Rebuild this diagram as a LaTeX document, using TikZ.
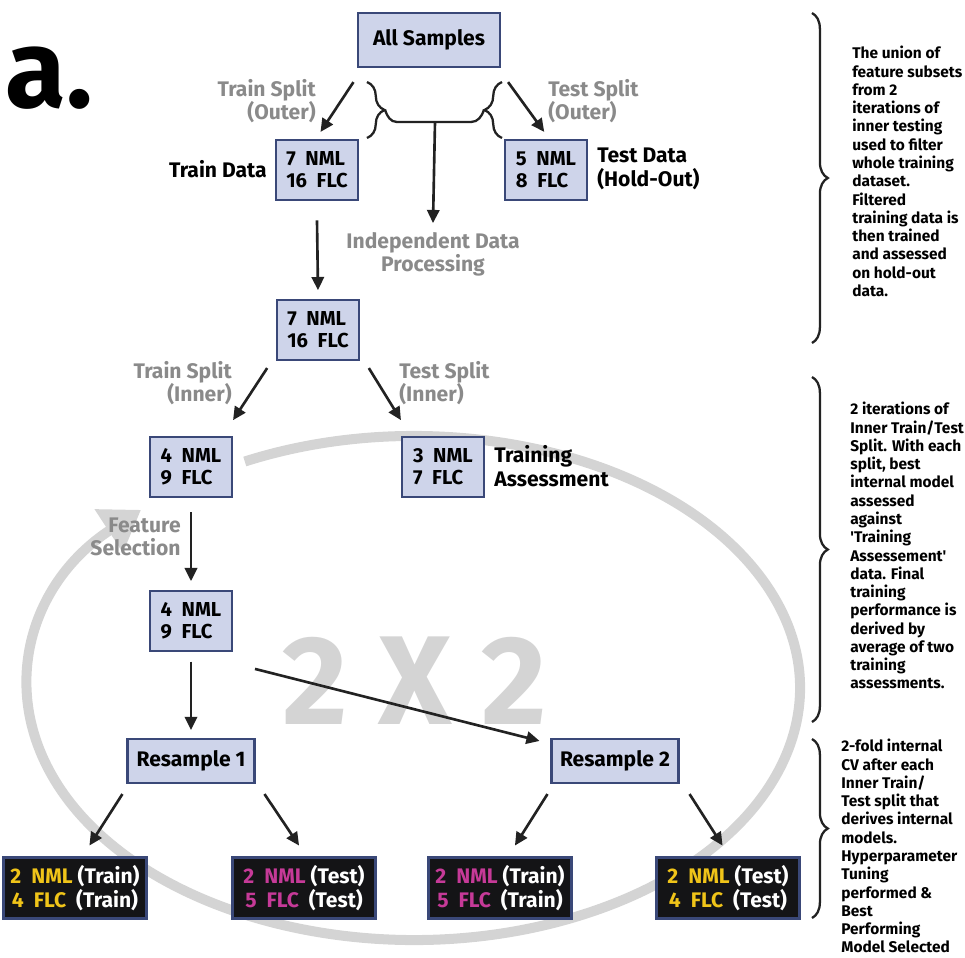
\documentclass[tikz,border=0pt]{standalone}
\usepackage{fontspec}
\setmainfont{Fira Sans}
\newfontfamily\plainq{Fira Sans}
\usetikzlibrary{arrows.meta,decorations.pathreplacing}

\definecolor{boxfill}{RGB}{206,212,234}
\definecolor{boxline}{RGB}{58,72,120}
\definecolor{darkfill}{RGB}{20,20,22}
\definecolor{ylw}{RGB}{240,196,25}
\definecolor{mgt}{RGB}{198,58,152}
\definecolor{graytxt}{RGB}{138,138,138}
\definecolor{ringc}{RGB}{212,212,212}
\definecolor{arrowc}{RGB}{34,34,34}

\tikzset{
  databox/.style={draw=boxline, fill=boxfill, line width=1.2pt, minimum width=1.64cm, minimum height=1.2cm, inner sep=0pt, align=left, font=\bfseries\fontsize{11.5}{12.5}\selectfont},
  stepbox/.style={draw=boxline, fill=boxfill, line width=1.2pt, minimum width=2.54cm, minimum height=0.88cm, inner sep=0pt, font=\bfseries\fontsize{12}{13}\selectfont},
  foldbox/.style={draw=boxline, fill=darkfill, line width=1.2pt, minimum width=2.86cm, minimum height=1.22cm, inner sep=0pt, align=center, text=white, font=\bfseries\fontsize{12}{13.6}\selectfont},
  graylbl/.style={text=graytxt, inner sep=0pt, font=\bfseries\fontsize{12}{13}\selectfont},
  blacklbl/.style={inner sep=0pt, font=\bfseries\fontsize{12}{13.5}\selectfont},
  note/.style={anchor=north west, inner sep=0pt, align=left, font=\bfseries\fontsize{8.8}{10.4}\selectfont},
  arr/.style={draw=arrowc, line width=1.5pt, -{Triangle[length=7.5pt,width=7pt]}},
  curly/.style={draw=arrowc, line width=1.3pt, decorate, decoration={brace, amplitude=#1}},
  ring/.style={draw=ringc, line width=5.7pt, -{Triangle[length=22pt,width=28pt]}}
}

\begin{document}
\begin{tikzpicture}[x=0.02cm,y=-0.02cm]
          \useasboundingbox (0,0) rectangle (965,958);
          % loop behind everything
          \draw[ring] (414,688) ++(-116:386 and 252) arc[start angle=-116, end angle=225, x radius=386, y radius=252];
          \node[text=ringc, inner sep=0pt, font=\bfseries\fontsize{72}{72}\selectfont] (twobytwo) at (415,681) {2 X 2};
          \node[anchor=base west, inner sep=0pt, font=\bfseries\fontsize{63}{63}\selectfont] (panel) at (5,107) {a.};

          % outer split
          \node[databox, minimum width=2.84cm, minimum height=1.08cm, font=\bfseries\fontsize{12}{13}\selectfont] (allsamples) at (429,40) {All Samples};
          \node[databox] (traindata) at (317,170) {7~~NML\\16~~FLC};
          \node[databox] (testdata) at (546,170) {5~~NML\\8~~FLC};
          \node[blacklbl, anchor=east] (lbltrain) at (267,169) {Train Data};
          \node[blacklbl, anchor=west, align=left] (lbltest) at (597,169) {Test Data\\(Hold-Out)};
          \node[graylbl, anchor=east, align=right] (lblouttrain) at (316,101) {Train Split\\(Outer)};
          \node[graylbl, anchor=west, align=left] (lblouttest) at (548,101) {Test Split\\(Outer)};
          \draw[curly=10pt] (367,82) -- (367,138);
          \draw[curly=10pt] (502,138) -- (502,82);
          \coordinate (splitjoin) at (435,122);
          \draw[draw=arrowc, line width=1.3pt] (385,110) to[out=-70,in=180] (397,122) -- (471,122) to[out=0,in=-110] (484,110);
          \node[graylbl, align=center] (indep) at (433,254) {Independent Data\\Processing};

          % inner split
          \node[databox] (trainfilt) at (318,330) {7~~NML\\16~~FLC};
          \node[graylbl, anchor=east, align=right] (lblintrain) at (232,383) {Train Split\\(Inner)};
          \node[graylbl, anchor=west, align=left] (lblintest) at (399,383) {Test Split\\(Inner)};
          \node[databox] (innertrain) at (191,467) {4~~NML\\9~~FLC};
          \node[databox] (innertest) at (443,467) {3~~NML\\7~~FLC};
          \node[blacklbl, anchor=west, align=left] (lblassess) at (494,466) {Training\\Assessment};
          \node[graylbl, anchor=east, align=right] (lblfeat) at (181,537) {Feature\\Selection};
          \node[databox] (selected) at (191,621) {4~~NML\\9~~FLC};

          % resampling
          \node[stepbox] (resampleone) at (191,761) {Resample 1};
          \node[stepbox] (resampletwo) at (615,761) {Resample 2};
          \node[foldbox] (rsonetrain) at (75,888) {{\color{ylw}2~~NML} (Train)\\{\color{ylw}4~~FLC}~~(Train)};
          \node[foldbox] (rsonetest) at (304,888) {{\color{mgt}2~~NML} (Test)\\{\color{mgt}5~~FLC}~~(Test)};
          \node[foldbox] (rstwotrain) at (500,888) {{\color{mgt}2~~NML} (Train)\\{\color{mgt}5~~FLC}~~(Train)};
          \node[foldbox] (rstwotest) at (728,888) {{\color{ylw}2~~NML} (Test)\\{\color{ylw}4~~FLC}~~(Test)};

          % connectors
          \draw[arr] ([xshift=-2pt,yshift=-8pt]allsamples.south west) -- ([xshift=2pt,yshift=4pt]traindata.north);
          \draw[arr] ([xshift=4pt,yshift=-8pt]allsamples.south east) -- ([xshift=-1pt,yshift=4pt]testdata.north);
          \draw[arr] (splitjoin) -- ([yshift=5pt]indep.north);
          \draw[arr] ([yshift=-11pt]traindata.south) -- ([yshift=5pt]trainfilt.north);
          \draw[arr] ([xshift=-5pt,yshift=-4pt]trainfilt.south west) -- ([yshift=9pt]innertrain.north east);
          \draw[arr] ([xshift=5pt,yshift=-4pt]trainfilt.south east) -- ([yshift=9pt]innertest.north west);
          \draw[arr] ([yshift=-8pt]innertrain.south) -- ([yshift=5pt]selected.north);
          \draw[arr] ([yshift=-5.5pt]selected.south) -- ([yshift=4.5pt]resampleone.north);
          \draw[arr] ([xshift=12.5pt,yshift=-9.6pt]selected.south east) -- ([xshift=-6.2pt,yshift=-1.7pt]resampletwo.north west);
          \draw[arr] ([xshift=-2.3pt,yshift=-5.7pt]resampleone.south west) -- ([xshift=8.2pt,yshift=6.2pt]rsonetrain.north);
          \draw[arr] ([xshift=5.1pt,yshift=-5.7pt]resampleone.south east) -- ([xshift=-2.8pt,yshift=6.2pt]rsonetest.north);
          \draw[arr] ([xshift=-1.7pt,yshift=-5.7pt]resampletwo.south west) -- ([xshift=8.5pt,yshift=6.2pt]rstwotrain.north);
          \draw[arr] ([xshift=5.7pt,yshift=-5.7pt]resampletwo.south east) -- ([xshift=-3.1pt,yshift=6.2pt]rstwotest.north);

          % notes on the right
          \draw[curly=9pt] (812,13) -- (812,343);
          \draw[curly=9pt] (812,377) -- (812,722);
          \draw[curly=9pt] (812,739) -- (812,918);
          \node[note] (noteouter) at (852,46) {The union of\\feature subsets\\from 2\\iterations of\\inner testing\\used to filter\\whole training\\dataset.\\Filtered\\training data is\\then trained\\and assessed\\on hold-out\\data.};
          \node[note] (noteinner) at (850,402) {2 iterations of\\Inner Train/Test\\Split. With each\\split, best\\internal model\\assessed\\against\\{\plainq\bfseries '}Training\\Assessement{\plainq\bfseries '}\\data. Final\\training\\performance is\\derived by\\average of two\\training\\assessments.};
          \node[note] (notecv) at (841,739) {2-fold internal\\CV after each\\Inner Train/\\Test split that\\derives internal\\models.\\Hyperparameter\\Tuning\\performed \&\\Best\\Performing\\Model Selected};
        \end{tikzpicture}
\end{document}
